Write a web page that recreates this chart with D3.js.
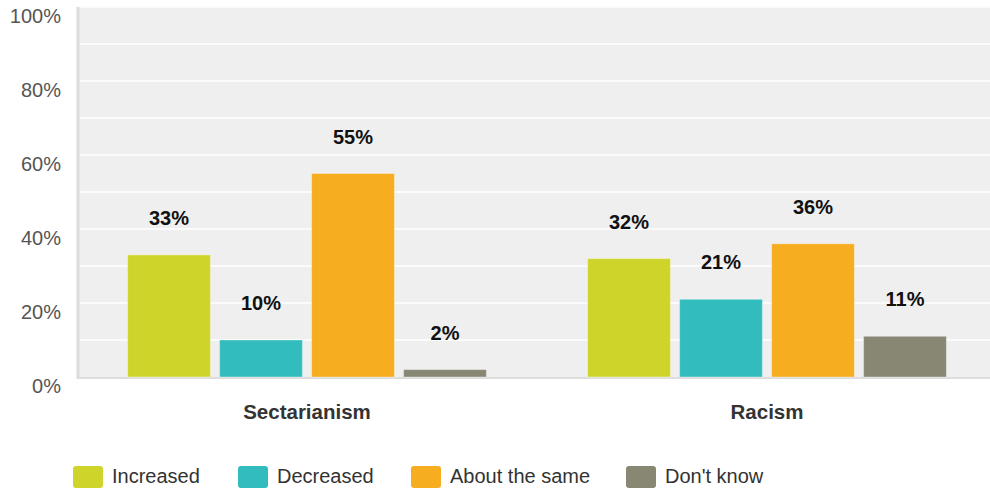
<!DOCTYPE html>
<html>
<head>
<meta charset="utf-8">
<script src="https://cdn.jsdelivr.net/npm/d3@7"></script>
<style>
  body { margin: 0; background: #fff; }
  svg { display: block; font-family: "Liberation Sans", Arial, sans-serif; }
</style>
</head>
<body>
<svg id="chart" width="990" height="490"></svg>
<script>
const categories = ['Sectarianism', 'Racism'];
const seriesNames = ['Increased', 'Decreased', 'About the same', "Don't know"];
const seriesColors = ['#cfd42b', '#33bcbe', '#f6ad1f', '#878773'];
const increased = [33, 32];
const decreased = [10, 21];
const aboutSame = [55, 36];
const dontKnow = [2, 11];
const yTicks = [0, 20, 40, 60, 80, 100];

const values = [increased, decreased, aboutSame, dontKnow];

const width = 990;
const height = 490;
const margin = { top: 7, right: -7, bottom: 113, left: 77 };

const svg = d3.select('#chart');

const scaleX = d3.scaleBand()
  .domain(categories)
  .range([margin.left, width - margin.right])
  .paddingInner(0.22)
  .paddingOuter(0.11);

const scaleSeries = d3.scaleBand()
  .domain(seriesNames)
  .range([0, scaleX.bandwidth()])
  .paddingInner(0.1);

const scaleY = d3.scaleLinear()
  .domain([0, 100])
  .range([height - margin.bottom, margin.top]);

const color = d3.scaleOrdinal().domain(seriesNames).range(seriesColors);

// plot background
svg.append('rect')
  .attr('x', margin.left)
  .attr('y', margin.top)
  .attr('width', width - margin.left)
  .attr('height', scaleY(0) - margin.top)
  .attr('fill', '#efefef');

// gridlines every 10%
svg.append('g')
  .selectAll('line')
  .data(d3.range(10, 101, 10))
  .enter()
  .append('line')
  .attr('x1', margin.left)
  .attr('x2', width)
  .attr('y1', d => scaleY(d))
  .attr('y2', d => scaleY(d))
  .attr('stroke', '#fbfbfb')
  .attr('stroke-width', 2);

// y axis labels
const axisY = d3.axisLeft(scaleY)
  .tickValues(yTicks)
  .tickFormat(d => d + '%')
  .tickSize(0)
  .tickPadding(16);

const groupAxisY = svg.append('g')
  .attr('transform', `translate(${margin.left}, 0)`)
  .call(axisY);
groupAxisY.select('.domain').remove();
groupAxisY.selectAll('text')
  .attr('font-size', 20)
  .attr('font-family', '"Liberation Sans", Arial, sans-serif')
  .attr('fill', '#555')
  .attr('dy', 15)
  .attr('y', 0);

// axis lines
svg.append('line')
  .attr('x1', margin.left + 1)
  .attr('x2', margin.left + 1)
  .attr('y1', margin.top)
  .attr('y2', scaleY(0) + 2)
  .attr('stroke', '#dcdcdc')
  .attr('stroke-width', 3);

svg.append('line')
  .attr('x1', margin.left)
  .attr('x2', width)
  .attr('y1', scaleY(0) + 1)
  .attr('y2', scaleY(0) + 1)
  .attr('stroke', '#dddddd')
  .attr('stroke-width', 2);

// bars
const groupBars = svg.append('g');
const cats = groupBars.selectAll('g.cat')
  .data(categories)
  .enter()
  .append('g')
  .attr('class', 'cat')
  .attr('transform', d => `translate(${scaleX(d)}, 0)`);

cats.selectAll('rect')
  .data((d, i) => seriesNames.map((s, j) => ({ series: s, value: values[j][i] })))
  .enter()
  .append('rect')
  .attr('x', d => scaleSeries(d.series))
  .attr('y', d => scaleY(d.value))
  .attr('width', scaleSeries.bandwidth())
  .attr('height', d => scaleY(0) - scaleY(d.value))
  .attr('fill', d => color(d.series))
  .attr('stroke', 'rgba(255,255,255,0.35)')
  .attr('stroke-width', 1);

cats.selectAll('text.value')
  .data((d, i) => seriesNames.map((s, j) => ({ series: s, value: values[j][i] })))
  .enter()
  .append('text')
  .attr('class', 'value')
  .attr('x', d => scaleSeries(d.series) + scaleSeries.bandwidth() / 2)
  .attr('y', d => scaleY(d.value) - 30)
  .attr('text-anchor', 'middle')
  .attr('font-size', 20)
  .attr('font-weight', 'bold')
  .attr('fill', '#111')
  .text(d => d.value + '%');

// category labels
svg.append('g')
  .selectAll('text')
  .data(categories)
  .enter()
  .append('text')
  .attr('x', d => scaleX(d) + scaleX.bandwidth() / 2)
  .attr('y', 419)
  .attr('text-anchor', 'middle')
  .attr('font-size', 20.5)
  .attr('font-weight', 'bold')
  .attr('fill', '#333')
  .text(d => d);

// legend
const legendX = [73, 238, 411, 626];
const legend = svg.append('g')
  .selectAll('g')
  .data(seriesNames)
  .enter()
  .append('g')
  .attr('transform', (d, i) => `translate(${legendX[i]}, 466)`);

legend.append('rect')
  .attr('width', 30)
  .attr('height', 22)
  .attr('rx', 3)
  .attr('fill', d => color(d));

legend.append('text')
  .attr('x', 39)
  .attr('y', 17)
  .attr('font-size', 20)
  .attr('fill', '#333')
  .text(d => d);
</script>
</body>
</html>
